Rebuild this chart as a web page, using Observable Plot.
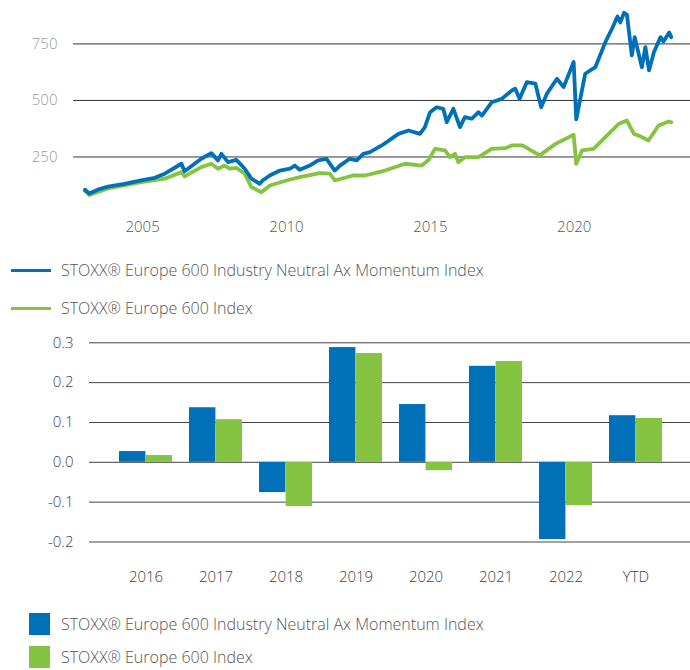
<!DOCTYPE html>
<html><head><meta charset="utf-8">
<script src="https://cdn.jsdelivr.net/npm/d3@7"></script>
<script src="https://cdn.jsdelivr.net/npm/@observablehq/plot@0.6"></script>
<style>
body{margin:0;background:#fff;font-family:"Open Sans",sans-serif;}
#wrap{position:relative;width:690px;height:670px;overflow:hidden;}
.chart{position:absolute;left:0;}
.leg{position:absolute;left:0;height:22px;display:flex;align-items:center;font-size:16px;color:#555;font-weight:300;white-space:nowrap;}
.leg .ln{display:inline-block;width:40px;height:3px;margin-left:11px;margin-right:10px;}
.leg .sq{display:inline-block;width:21px;height:22px;margin-left:29px;margin-right:11px;}
</style></head><body><div id="wrap"></div>
<script>
const seriesNames = ["STOXX® Europe 600 Industry Neutral Ax Momentum Index", "STOXX® Europe 600 Index"];
const seriesColors = ["#0071b9", "#84c441"];

// Line chart (index level), fractional years
const momYears = [2003.0,2003.15,2003.5,2003.8,2004.37,2004.95,2005.42,2005.77,2006.35,2006.46,2007.04,2007.39,2007.62,2007.74,2007.97,2008.26,2008.55,2008.78,2009.07,2009.17,2009.42,2009.77,2010.12,2010.29,2010.46,2010.81,2011.1,2011.39,2011.68,2011.86,2012.2,2012.44,2012.67,2012.9,2013.31,2013.89,2014.24,2014.64,2014.81,2014.99,2015.22,2015.45,2015.57,2015.8,2016.03,2016.2,2016.44,2016.67,2016.79,2017.13,2017.48,2017.83,2017.95,2018.1,2018.35,2018.65,2018.85,2019.05,2019.4,2019.63,2019.98,2020.07,2020.38,2020.73,2021.08,2021.31,2021.5,2021.6,2021.73,2021.83,2022.0,2022.1,2022.35,2022.47,2022.6,2022.77,2023.0,2023.1,2023.3,2023.37];
const momValues = [105,88,108,119,131,146,158,176,220,187,242,267,235,264,227,237,198,154,131,146,168,190,198,212,193,212,235,242,190,212,242,235,264,271,301,352,367,352,382,448,470,463,404,463,382,426,419,448,433,492,507,544,552,507,581,574,470,530,596,559,670,416,618,647,758,817,871,845,888,879,699,780,647,736,633,714,780,761,800,780];

const idxYears = [2003.0,2003.15,2003.8,2004.95,2005.77,2006.35,2006.46,2007.04,2007.39,2007.62,2007.85,2008.03,2008.26,2008.55,2008.78,2009.13,2009.42,2010.0,2010.46,2011.16,2011.51,2011.68,2012.31,2012.73,2013.42,2014.12,2014.7,2014.93,2015.16,2015.51,2015.68,2015.86,2015.97,2016.2,2016.67,2017.13,2017.6,2017.83,2018.2,2018.8,2019.35,2019.98,2020.07,2020.27,2020.67,2021.08,2021.55,2021.83,2022.07,2022.35,2022.58,2022.93,2023.28,2023.37];
const idxValues = [100,82,111,139,154,183,164,205,220,198,212,198,202,176,117,94,124,146,161,179,176,146,168,168,190,220,212,235,286,279,249,264,227,249,249,286,289,301,301,257,308,348,220,279,286,338,397,411,353,338,323,389,407,403];

const lineTicks = [250, 500, 750];
const yearTicks = [2005, 2010, 2015, 2020];

// Bar chart (annual returns)
const barCategories = ["2016","2017","2018","2019","2020","2021","2022","YTD"];
const barMomentum = [0.027,0.137,-0.076,0.288,0.145,0.241,-0.194,0.117];
const barIndex = [0.017,0.107,-0.111,0.273,-0.021,0.253,-0.109,0.110];
const barTicks = [-0.2,-0.1,0.0,0.1,0.2,0.3];

const toDate = y => { const yr = Math.floor(y); const s = Date.UTC(yr,0,1), e = Date.UTC(yr+1,0,1); return new Date(s + (y-yr)*(e-s)); };
const momData = momYears.map((y,i) => ({date: toDate(y), value: momValues[i]}));
const idxData = idxYears.map((y,i) => ({date: toDate(y), value: idxValues[i]}));

const font = {fontFamily: '"Open Sans", sans-serif', fontSize: "15px", fontWeight: 300, background: "transparent", overflow: "visible"};
const wrap = document.getElementById("wrap");

const topChart = Plot.plot({
  width: 690, height: 240,
  marginLeft: 73, marginRight: 0, marginTop: 0, marginBottom: 27,
  style: font,
  x: {type: "utc", domain: [toDate(2002.6), toDate(2024.04)]},
  y: {domain: [0, 942]},
  marks: [
    Plot.ruleY(lineTicks, {stroke: "#333", strokeWidth: 1}),
    Plot.axisY({ticks: lineTicks, tickSize: 0, tickPadding: 16, color: "#999", label: null}),
    Plot.axisX({ticks: yearTicks.map(toDate), tickFormat: d3.utcFormat("%Y"), tickSize: 0, tickPadding: 8, color: "#555", label: null}),
    Plot.line(idxData, {x: "date", y: "value", stroke: seriesColors[1], strokeWidth: 3.8, strokeLinejoin: "round"}),
    Plot.line(momData, {x: "date", y: "value", stroke: seriesColors[0], strokeWidth: 3.8, strokeLinejoin: "round"})
  ]
});
topChart.classList.add("chart"); topChart.style.top = "0px";
wrap.appendChild(topChart);

function legend(topPx, kind, i) {
  const d = document.createElement("div");
  d.className = "leg"; d.style.top = topPx + "px";
  const m = document.createElement("span"); m.className = kind; m.style.background = seriesColors[i];
  d.appendChild(m);
  const t = document.createElement("span"); t.textContent = seriesNames[i];
  d.appendChild(t);
  wrap.appendChild(d);
}
legend(259, "ln", 0);
legend(297, "ln", 1);

const pInner = 0.24, pOuter = 0.12, xr = [111, 671];
const step = (xr[1]-xr[0]) / (barCategories.length - pInner + 2*pOuter);
const bw = step * (1 - pInner);
const barData = barCategories.map((c,i) => ({cat: c, mom: barMomentum[i], idx: barIndex[i]}));

const bottomChart = Plot.plot({
  width: 690, height: 280,
  marginLeft: 89, marginRight: 0, marginTop: 22.3, marginBottom: 58.5,
  style: font,
  x: {type: "band", domain: barCategories, range: xr, paddingInner: pInner, paddingOuter: pOuter},
  y: {domain: [-0.2, 0.3]},
  marks: [
    Plot.ruleY(barTicks, {stroke: "#444", strokeWidth: 1}),
    Plot.axisY({ticks: barTicks, tickFormat: d => d.toFixed(1), tickSize: 0, tickPadding: 16, color: "#444", label: null}),
    Plot.axisX({tickSize: 0, tickPadding: 29, color: "#444", label: null}),
    Plot.barY(barData, {x: "cat", y: "mom", fill: seriesColors[0], insetRight: bw/2}),
    Plot.barY(barData, {x: "cat", y: "idx", fill: seriesColors[1], insetLeft: bw/2})
  ]
});
bottomChart.classList.add("chart"); bottomChart.style.top = "320px";
wrap.appendChild(bottomChart);

legend(613, "sq", 0);
legend(646, "sq", 1);
</script></body></html>
